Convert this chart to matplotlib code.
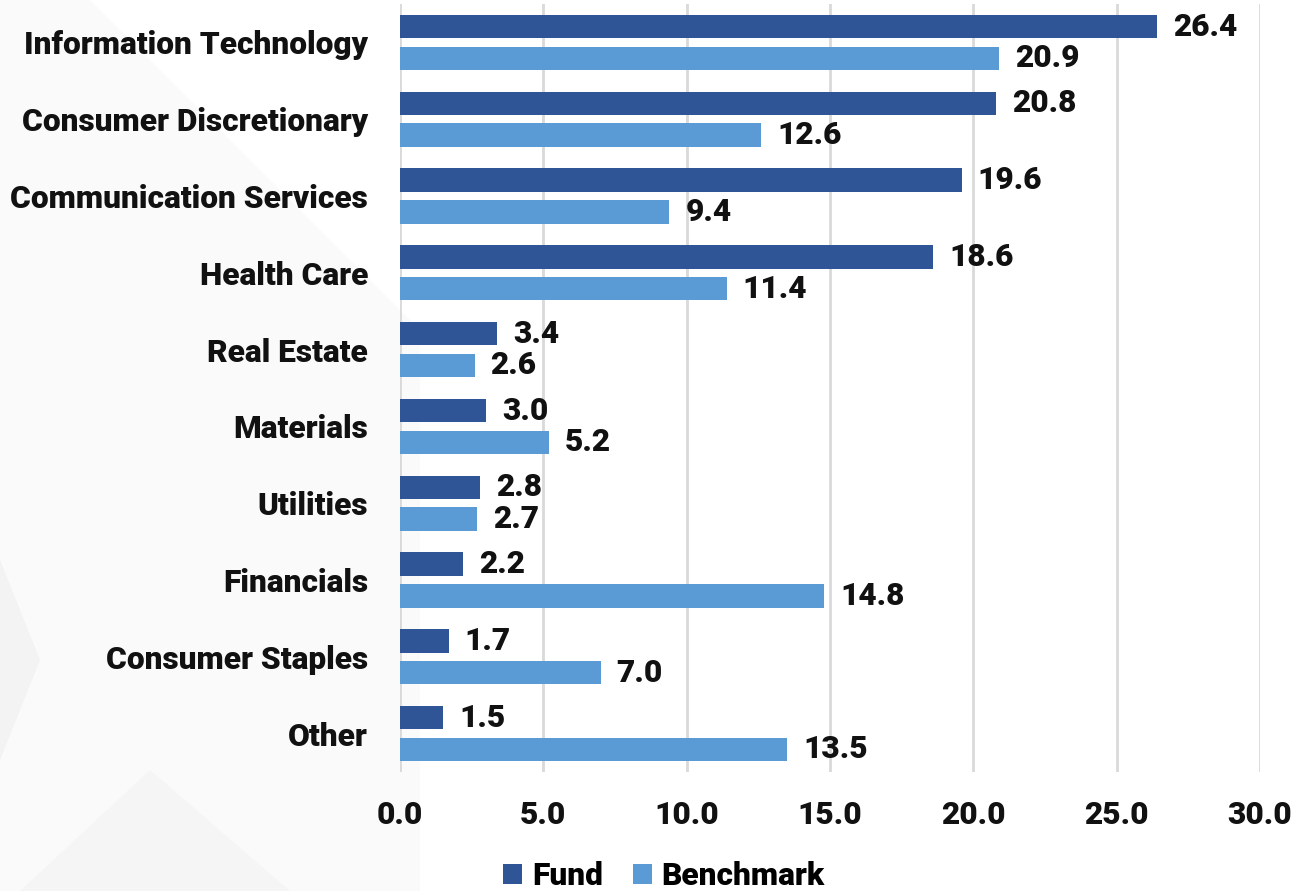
import matplotlib
matplotlib.use("Agg")
import matplotlib.pyplot as plt
from matplotlib.patches import Polygon
import numpy as np

plt.rcParams['font.family'] = ['Roboto', 'DejaVu Sans']
plt.rcParams['font.weight'] = 'bold'

sectors = ['Information Technology', 'Consumer Discretionary', 'Communication Services',
           'Health Care', 'Real Estate', 'Materials', 'Utilities', 'Financials',
           'Consumer Staples', 'Other']
fund = [26.4, 20.8, 19.6, 18.6, 3.4, 3.0, 2.8, 2.2, 1.7, 1.5]
benchmark = [20.9, 12.6, 9.4, 11.4, 2.6, 5.2, 2.7, 14.8, 7.0, 13.5]
x_ticks = [0, 5, 10, 15, 20, 25, 30]

fund_color = '#2F5597'
bench_color = '#5B9BD5'
fs = 22.8
wt = 'black'

fig = plt.figure(figsize=(12.96, 8.91), dpi=100)

# faint background shapes
bg = fig.add_axes([0, 0, 1, 1], zorder=-5)
bg.set_xlim(0, 1296)
bg.set_ylim(891, 0)
bg.axis('off')
bg.add_patch(Polygon([(0, 0), (90, 0), (420, 330), (420, 891), (0, 891)],
                     closed=True, color='#fafafa', lw=0))
bg.add_patch(Polygon([(0, 560), (40, 660), (0, 760)], closed=True, color='#f3f3f3', lw=0))
bg.add_patch(Polygon([(20, 891), (150, 770), (290, 891)], closed=True, color='#f5f5f5', lw=0))

ax = fig.add_axes([400 / 1296, 1 - 772 / 891, 860 / 1296, 768 / 891])
ax.patch.set_alpha(0)

y = np.arange(len(sectors))
h = 0.305
off = 0.207
ax.barh(y - off, fund, height=h, color=fund_color, label='Fund', zorder=3)
ax.barh(y + off, benchmark, height=h, color=bench_color, label='Benchmark', zorder=3)

for yi, v in zip(y, fund):
    ax.annotate(f'{v:.1f}', (v, yi - off), xytext=(11.5, 0), textcoords='offset points',
                va='center', ha='left', fontsize=fs, fontweight=wt, color='#111111')
for yi, v in zip(y, benchmark):
    ax.annotate(f'{v:.1f}', (v, yi + off), xytext=(11.5, 0), textcoords='offset points',
                va='center', ha='left', fontsize=fs, fontweight=wt, color='#111111')

ax.set_xlim(0, 30)
ax.set_ylim(len(sectors) - 0.5, -0.5)
ax.set_xticks(x_ticks)
ax.set_xticklabels([f'{t:.1f}' for t in x_ticks], fontsize=fs, fontweight=wt, color='#111111')
ax.set_yticks(y)
ax.set_yticklabels(sectors, fontsize=fs, fontweight=wt, color='#111111')
ax.tick_params(axis='both', length=0)
ax.tick_params(axis='x', pad=20)
ax.tick_params(axis='y', pad=23)
ax.grid(axis='x', color='#D9D9D9', linewidth=2, zorder=0)
for s in ax.spines.values():
    s.set_visible(False)

fig.legend(loc='center', bbox_to_anchor=(664 / 1296, 1 - 876 / 891), ncol=2, frameon=False,
           prop={'size': fs, 'weight': wt}, handlelength=0.6, handleheight=0.6,
           handletextpad=0.3, columnspacing=0.95)

fig.savefig('out.png', dpi=100, facecolor='white')
